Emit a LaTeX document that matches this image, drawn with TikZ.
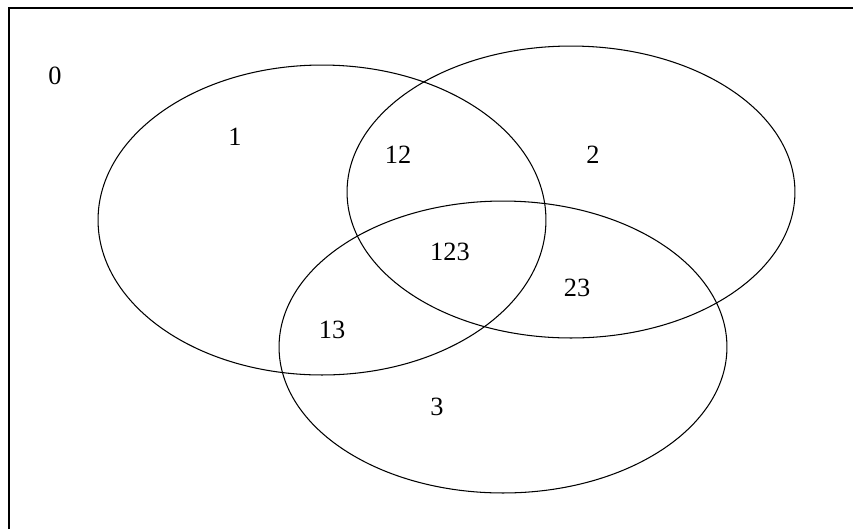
\documentclass[tikz,border=0pt]{standalone}
\usepackage{fontspec}
\setmainfont{Liberation Serif}
\begin{document}
\begin{tikzpicture}[x=0.02cm,y=-0.02cm]
  \useasboundingbox (0,0) rectangle (853,529);
  \draw[line width=1.2pt] (9,529) -- (9,8) -- (853,8);
  % the three sets
  \draw[line width=0.6pt] (322,220) ellipse [x radius=4.48cm, y radius=3.1cm];
  \draw[line width=0.6pt] (571,192) ellipse [x radius=4.48cm, y radius=2.92cm];
  \draw[line width=0.6pt] (503,347) ellipse [x radius=4.48cm, y radius=2.92cm];
  \foreach \lab/\px/\py in {0/55/76, 1/235/137, 12/398/155, 2/593/155,
                            123/450/252, 23/577/288, 13/332/330, 3/437/407} {
    \node[font=\fontsize{15}{18}\selectfont] (r\lab) at (\px,\py) {\lab};
  }
\end{tikzpicture}
\end{document}
